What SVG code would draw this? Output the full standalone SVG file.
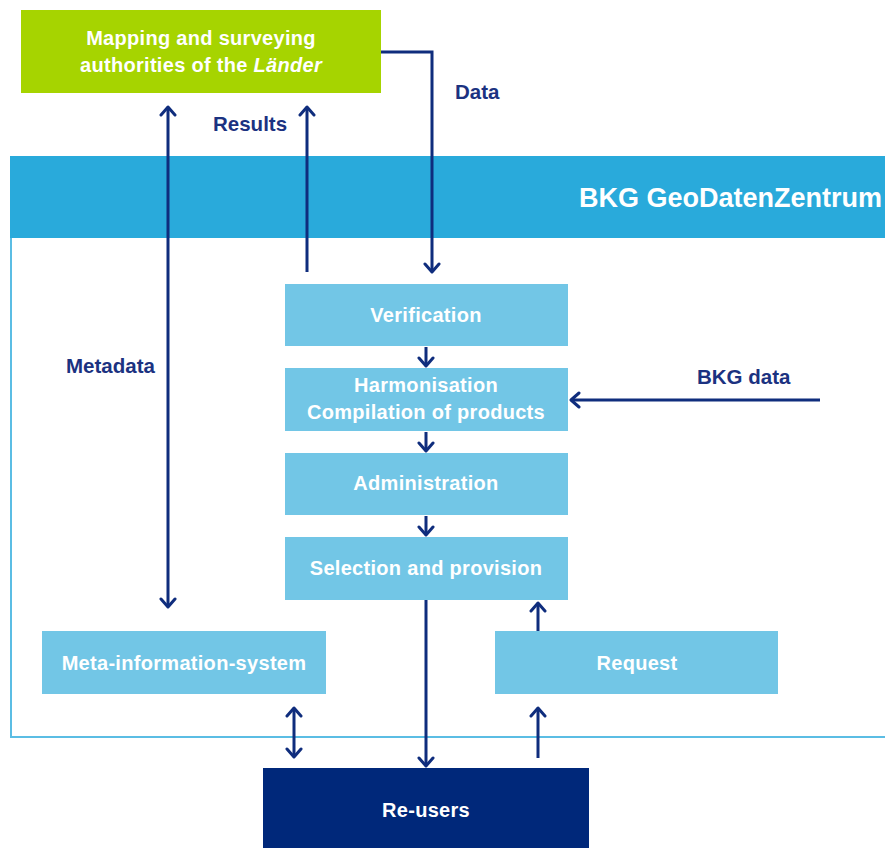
<svg xmlns="http://www.w3.org/2000/svg" width="885" height="848" viewBox="0 0 885 848">
<style>
.box{fill:#72c6e6}
.bt{font-family:"Liberation Sans",Arial,sans-serif;font-weight:bold;font-size:20px;fill:#ffffff;text-anchor:middle;letter-spacing:0.3px}
.lbl{font-family:"Liberation Sans",Arial,sans-serif;font-weight:bold;font-size:20.5px;fill:#1b3281}
.ln{fill:none;stroke:#0f2d7d;stroke-width:3}
</style>
<defs>
<marker id="ah" viewBox="-11 -9 13 18" refX="0" refY="0" markerWidth="13" markerHeight="18" markerUnits="userSpaceOnUse" orient="auto-start-reverse">
<path d="M-8,-7 L0,0 L-8,7" fill="none" stroke="#0f2d7d" stroke-width="3" stroke-linecap="round" stroke-linejoin="round"/>
</marker>
</defs>
<rect width="885" height="848" fill="#ffffff"/>
<g id="frame">
<rect x="11" y="157" width="890" height="580" fill="none" stroke="#5bbde4" stroke-width="2"/>
<rect x="10" y="156" width="880" height="82" fill="#29aadb"/>
<text x="579" y="207" font-family="Liberation Sans,Arial,sans-serif" font-weight="bold" font-size="27px" fill="#ffffff">BKG GeoDatenZentrum</text>
</g>
<g id="laender">
<rect x="21" y="10" width="360" height="83" fill="#a6d400"/>
<text class="bt" x="201" y="45">Mapping and surveying</text>
<text class="bt" x="201" y="72">authorities of the <tspan font-style="italic">Länder</tspan></text>
</g>
<g id="verification"><rect class="box" x="285" y="284" width="283" height="62"/><text class="bt" x="426" y="322">Verification</text></g>
<g id="harmonisation"><rect class="box" x="285" y="368" width="283" height="63"/><text class="bt" x="426" y="392">Harmonisation</text><text class="bt" x="426" y="419">Compilation of products</text></g>
<g id="administration"><rect class="box" x="285" y="453" width="283" height="62"/><text class="bt" x="426" y="490">Administration</text></g>
<g id="selection"><rect class="box" x="285" y="537" width="283" height="63"/><text class="bt" x="426" y="575">Selection and provision</text></g>
<g id="metainfo"><rect class="box" x="42" y="631" width="284" height="63"/><text class="bt" x="184" y="670">Meta-information-system</text></g>
<g id="request"><rect class="box" x="495" y="631" width="283" height="63"/><text class="bt" x="637" y="670">Request</text></g>
<g id="reusers"><rect x="263" y="768" width="326" height="90" fill="#00287a"/><text class="bt" x="426" y="817">Re-users</text></g>
<g id="connectors">
<path class="ln" d="M381,52 H432 V272" marker-end="url(#ah)"/>
<path class="ln" d="M307,272 V107" marker-end="url(#ah)"/>
<path class="ln" d="M168,107 V607" marker-start="url(#ah)" marker-end="url(#ah)"/>
<path class="ln" d="M426,347 V366" marker-end="url(#ah)"/>
<path class="ln" d="M426,432 V451" marker-end="url(#ah)"/>
<path class="ln" d="M426,516 V535" marker-end="url(#ah)"/>
<path class="ln" d="M820,400 H571" marker-end="url(#ah)"/>
<path class="ln" d="M426,600 V766" marker-end="url(#ah)"/>
<path class="ln" d="M538,631 V603" marker-end="url(#ah)"/>
<path class="ln" d="M538,758 V708" marker-end="url(#ah)"/>
<path class="ln" d="M294,708 V757" marker-start="url(#ah)" marker-end="url(#ah)"/>
<text class="lbl" x="455" y="99">Data</text>
<text class="lbl" x="213" y="131">Results</text>
<text class="lbl" x="66" y="373">Metadata</text>
<text class="lbl" x="697" y="384">BKG data</text>
</g>
</svg>
